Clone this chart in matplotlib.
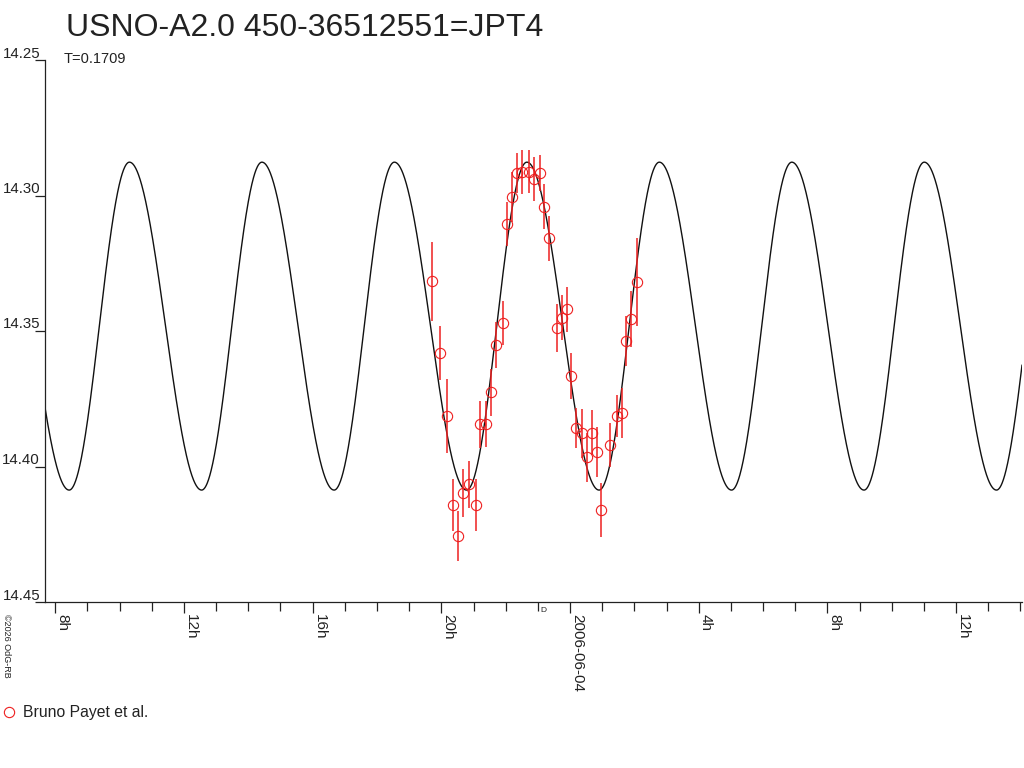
import numpy as np
import matplotlib
matplotlib.use("Agg")
import matplotlib.pyplot as plt
from matplotlib.lines import Line2D
from matplotlib.ticker import FixedLocator, MultipleLocator

plt.rcParams['font.family'] = ['Liberation Sans', 'DejaVu Sans']

# ---------------- data ----------------
title = "USNO-A2.0 450-36512551=JPT4"
period_label = "T=0.1709"
observer = "Bruno Payet et al."

# hours relative to 2006-06-04 00:00 UT
obs_hours = [-4.280, -4.032, -3.839, -3.628, -3.472, -3.317, -3.130, -2.931,
             -2.798, -2.611, -2.456, -2.291, -2.092, -1.968, -1.812, -1.657,
             -1.501, -1.265, -1.119, -0.933, -0.799, -0.643, -0.413, -0.258,
             -0.103, 0.040, 0.177, 0.364, 0.519, 0.675, 0.830, 0.964,
             1.243, 1.452, 1.607, 1.750, 1.896, 2.073]
obs_mag = [14.3316, 14.3580, 14.3814, 14.4142, 14.4256, 14.4099, 14.4065, 14.4142,
           14.3844, 14.3843, 14.3726, 14.3551, 14.3469, 14.3105, 14.3004, 14.2918,
           14.2913, 14.2912, 14.2939, 14.2917, 14.3041, 14.3158, 14.3490, 14.3451,
           14.3420, 14.3667, 14.3858, 14.3878, 14.3966, 14.3875, 14.3947, 14.4161,
           14.3921, 14.3814, 14.3801, 14.3537, 14.3456, 14.3320]
obs_err = [0.0146, 0.0100, 0.0137, 0.0096, 0.0092, 0.0089, 0.0087, 0.0096,
           0.0087, 0.0086, 0.0086, 0.0085, 0.0081, 0.0080, 0.0092, 0.0074,
           0.0080, 0.0080, 0.0080, 0.0066, 0.0084, 0.0083, 0.0088, 0.0084,
           0.0084, 0.0085, 0.0074, 0.0089, 0.0091, 0.0083, 0.0092, 0.0099,
           0.0080, 0.0077, 0.0092, 0.0092, 0.0103, 0.0162]

# light-curve model (fitted ephemeris)
curve_min_hour = -3.215     # epoch of a minimum (faintest)
curve_period_h = 4.118
curve_rise_frac = 0.455
curve_mean = 14.3482
curve_amp = 0.0605

x_major = [-16, -12, -8, -4, 0, 4, 8, 12]
x_major_labels = ["8h", "12h", "16h", "20h", "2006-06-04", "4h", "8h", "12h"]
y_ticks = [14.25, 14.30, 14.35, 14.40, 14.45]
y_tick_labels = ["14.25", "14.30", "14.35", "14.40", "14.45"]
x_range = (-16.32, 14.05)
y_range = (14.45, 14.25)

# ---------------- figure ----------------
W, H = 1024, 768
fig = plt.figure(figsize=(W / 100, H / 100), dpi=100)
ax = fig.add_axes([45 / W, 166 / H, (1022 - 45) / W, 542 / H])
ax.set_xlim(*x_range)
ax.set_ylim(*y_range)

txt = '#222222'
red = '#ee2020'

# model curve
t = np.linspace(x_range[0], x_range[1], 3000)
p = ((t - curve_min_hour) / curve_period_h) % 1.0
r = curve_rise_frac
m = np.where(p < r,
             curve_mean + curve_amp * np.cos(np.pi * p / r),
             curve_mean - curve_amp * np.cos(np.pi * (p - r) / (1 - r)))
ax.plot(t, m, color='#111111', lw=1.0)

# observations
ax.errorbar(obs_hours, obs_mag, yerr=obs_err, fmt='o', ms=7.4, mfc='none',
            mec=red, mew=0.8, ecolor=red, elinewidth=1.1, capsize=0, zorder=3)

# spines
for s in ['top', 'right']:
    ax.spines[s].set_visible(False)
for s in ['left', 'bottom']:
    ax.spines[s].set_color(txt)
    ax.spines[s].set_linewidth(0.9)

# x ticks
ax.xaxis.set_major_locator(FixedLocator(x_major))
ax.xaxis.set_minor_locator(MultipleLocator(1))
ax.set_xticklabels(x_major_labels, rotation=-90, ha='left', va='top',
                   fontsize=11, color=txt, rotation_mode='default')
ax.tick_params(axis='x', which='major', direction='out', length=8, width=0.9,
               color=txt, pad=1)
ax.tick_params(axis='x', which='minor', direction='out', length=6.5, width=0.9,
               color=txt)

# y ticks
ax.yaxis.set_major_locator(FixedLocator(y_ticks))
ax.tick_params(axis='y', which='major', direction='out', length=7.2, width=0.9,
               color=txt, labelleft=False)
ax.yaxis.set_minor_locator(FixedLocator([]))
for v, lab in zip(y_ticks, y_tick_labels):
    ax.annotate(lab, xy=(0, v), xycoords=ax.get_yaxis_transform(),
                xytext=(-5, 2.5), textcoords='offset pixels',
                ha='right', va='baseline', fontsize=10.8, color=txt,
                annotation_clip=False)

# small marker near midnight
ax.annotate('D', xy=(-1, 14.45), xycoords='data', xytext=(3, -10),
            textcoords='offset pixels', ha='left', va='baseline',
            fontsize=6, color=txt, annotation_clip=False)

# titles
fig.text(66 / W, 1 - 36 / H, title, fontsize=23, color=txt, va='baseline')
fig.text(64 / W, 1 - 63 / H, period_label, fontsize=10.5, color=txt, va='baseline')

# copyright
fig.text(2 / W, 1 - 614 / H, "\u00a92026 OdG-RB", rotation=-90, fontsize=6.5,
         color=txt, ha='left', va='top')

# legend
handle = Line2D([], [], marker='o', ls='none', mfc='none', mec=red, mew=0.8, ms=7.4)
fig.legend(handles=[handle], labels=[observer], loc='center left',
           bbox_to_anchor=(3 / W, 1 - 713 / H), frameon=False,
           handlelength=0.8, handletextpad=0.45, borderaxespad=0, borderpad=0,
           prop={'size': 11.3}, labelcolor=txt)

fig.savefig('out.png', dpi=100)
